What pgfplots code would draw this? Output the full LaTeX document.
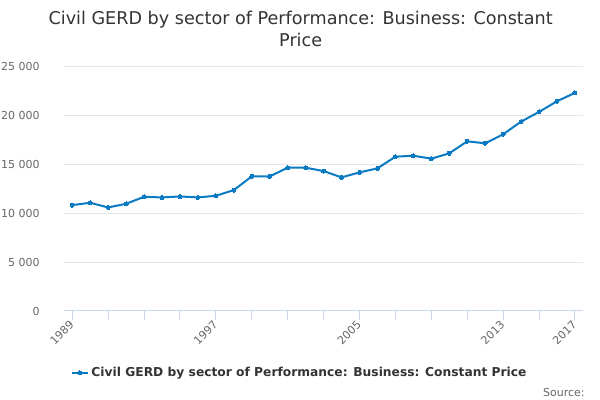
\documentclass[border=0pt]{standalone}
\usepackage{fontspec}
\setmainfont{DejaVu Sans}
\usepackage{pgfplots}
\pgfplotsset{compat=1.18}
\definecolor{linec}{HTML}{0A7BC2}
\definecolor{gridc}{HTML}{E6E6E6}
\definecolor{axisc}{HTML}{CCD6EB}
\definecolor{tickc}{HTML}{666666}
\definecolor{titlec}{HTML}{333333}
\begin{document}
\begin{tikzpicture}
\path[use as bounding box] (0,0) rectangle (450pt,300pt);
\node[align=center, font=\fontsize{13.2}{16.5}\selectfont, text=titlec] at (225.5pt,278.25pt)
  {Civil GERD by sector of Performance: Business: Constant\\Price};
\node[anchor=east, font=\fontsize{8.25}{10}\selectfont, text=tickc] at (442pt,6pt) {Source:};
\begin{axis}[
  at={(48pt,66.75pt)}, anchor=south west,
  scale only axis, width=389.25pt, height=183.75pt,
  xmin=1988.54, xmax=2017.45, ymin=0, ymax=25000,
  axis x line=bottom, axis y line=left,
  x axis line style={draw=axisc, line width=0.75pt, -},
  y axis line style={draw=none},
  xtick={1989,1997,2005,2013,2017},
  xticklabels={1989,1997,2005,2013,2017},
  minor xtick={1991,1993,1995,1999,2001,2003,2007,2009,2011,2015},
  xtick style={draw=axisc, line width=0.75pt},
  minor x tick style={draw=axisc, line width=0.75pt},
  tick align=outside, major tick length=6.75pt, minor tick length=6.75pt,
  xticklabel style={rotate=45, anchor=east, font=\fontsize{8.25}{10}\selectfont, text=tickc, xshift=2pt, yshift=-1pt},
  ytick={0,5000,10000,15000,20000,25000},
  yticklabels={0,5 000,10 000,15 000,20 000,25 000},
  scaled y ticks=false,
  ytick style={draw=none},
  yticklabel style={font=\fontsize{8.25}{10}\selectfont, text=tickc, xshift=-8pt},
  ymajorgrids, grid style={draw=gridc, line width=0.75pt},
  legend style={at={(0.4547,-0.253)}, anchor=center, draw=none, fill=none,
    font=\bfseries\fontsize{9.2}{11}\selectfont, text=titlec, inner sep=0pt},
  legend image code/.code={\draw[mark repeat=2,mark phase=2] plot coordinates {(0pt,0pt)(6pt,0pt)(12pt,0pt)};},
]
\addplot[color=linec, line width=1.5pt, mark=*, mark size=1.5pt, mark options={fill=linec, draw=linec, line width=0pt}] coordinates {
(1989,10805) (1990,11043) (1991,10566) (1992,10941) (1993,11656) (1994,11588)
(1995,11690) (1996,11588) (1997,11759) (1998,12338) (1999,13736) (2000,13736)
(2001,14622) (2002,14622) (2003,14281) (2004,13633) (2005,14145) (2006,14554)
(2007,15746) (2008,15849) (2009,15542) (2010,16087) (2011,17314) (2012,17110)
(2013,18030) (2014,19325) (2015,20313) (2016,21404) (2017,22256)
};
\addlegendentry{Civil GERD by sector of Performance: Business: Constant Price}
\end{axis}
\end{tikzpicture}
\end{document}
